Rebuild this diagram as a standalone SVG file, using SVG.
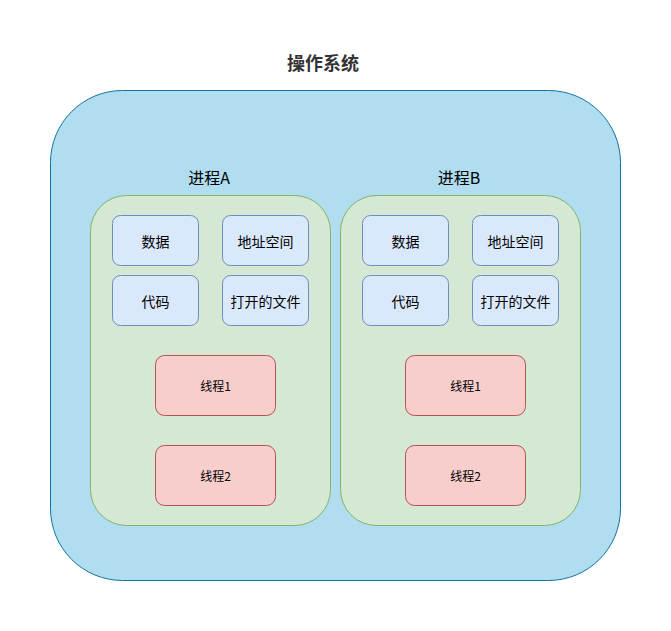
<svg xmlns="http://www.w3.org/2000/svg" width="671" height="631" viewBox="0 0 671 631">
  <style>
    .os { fill: #b1ddf0; stroke: #10739e; stroke-width: 1; }
    .proc { fill: #d5e8d4; stroke: #82b366; stroke-width: 1; }
    .res { fill: #dae8fc; stroke: #6c8ebf; stroke-width: 1; }
    .thr { fill: #f8cecc; stroke: #b85450; stroke-width: 1; }
    text { font-family: "Noto Sans CJK SC", "Liberation Sans", sans-serif; fill: #000; text-anchor: middle; dominant-baseline: central; }
    .title { font-size: 18px; font-weight: bold; fill: #333; }
    .plabel { font-size: 16px; }
    .rlabel { font-size: 14px; }
    .tlabel { font-size: 12px; }
  </style>
  <rect width="671" height="631" fill="#ffffff"/>

  <g id="os">
    <rect class="os" x="50.5" y="90.5" width="570" height="490" rx="72" ry="72"/>
    <text class="title" x="323" y="62">操作系统</text>
  </g>

  <g id="processA">
    <text class="plabel" x="209" y="177">进程A</text>
    <rect class="proc" x="90.5" y="195.5" width="240" height="330" rx="36" ry="36"/>
  </g>
  <g id="processB">
    <text class="plabel" x="459" y="177">进程B</text>
    <rect class="proc" x="340.5" y="195.5" width="240" height="330" rx="36" ry="36"/>
  </g>

  <g id="a-data">
    <rect class="res" x="112.5" y="215.5" width="86" height="50" rx="8" ry="8"/>
    <text class="rlabel" x="155.5" y="240.5">数据</text>
  </g>
  <g id="a-addr">
    <rect class="res" x="222.5" y="215.5" width="86" height="50" rx="8" ry="8"/>
    <text class="rlabel" x="265.5" y="240.5">地址空间</text>
  </g>
  <g id="a-code">
    <rect class="res" x="112.5" y="275.5" width="86" height="50" rx="8" ry="8"/>
    <text class="rlabel" x="155.5" y="300.5">代码</text>
  </g>
  <g id="a-files">
    <rect class="res" x="222.5" y="275.5" width="86" height="50" rx="8" ry="8"/>
    <text class="rlabel" x="265.5" y="300.5">打开的文件</text>
  </g>
  <g id="a-thread1">
    <rect class="thr" x="155.5" y="355.5" width="120" height="60" rx="9" ry="9"/>
    <text class="tlabel" x="215.5" y="385.5">线程1</text>
  </g>
  <g id="a-thread2">
    <rect class="thr" x="155.5" y="445.5" width="120" height="60" rx="9" ry="9"/>
    <text class="tlabel" x="215.5" y="475.5">线程2</text>
  </g>

  <g id="b-data">
    <rect class="res" x="362.5" y="215.5" width="86" height="50" rx="8" ry="8"/>
    <text class="rlabel" x="405.5" y="240.5">数据</text>
  </g>
  <g id="b-addr">
    <rect class="res" x="472.5" y="215.5" width="86" height="50" rx="8" ry="8"/>
    <text class="rlabel" x="515.5" y="240.5">地址空间</text>
  </g>
  <g id="b-code">
    <rect class="res" x="362.5" y="275.5" width="86" height="50" rx="8" ry="8"/>
    <text class="rlabel" x="405.5" y="300.5">代码</text>
  </g>
  <g id="b-files">
    <rect class="res" x="472.5" y="275.5" width="86" height="50" rx="8" ry="8"/>
    <text class="rlabel" x="515.5" y="300.5">打开的文件</text>
  </g>
  <g id="b-thread1">
    <rect class="thr" x="405.5" y="355.5" width="120" height="60" rx="9" ry="9"/>
    <text class="tlabel" x="465.5" y="385.5">线程1</text>
  </g>
  <g id="b-thread2">
    <rect class="thr" x="405.5" y="445.5" width="120" height="60" rx="9" ry="9"/>
    <text class="tlabel" x="465.5" y="475.5">线程2</text>
  </g>

  <g id="connectors"></g>
</svg>
